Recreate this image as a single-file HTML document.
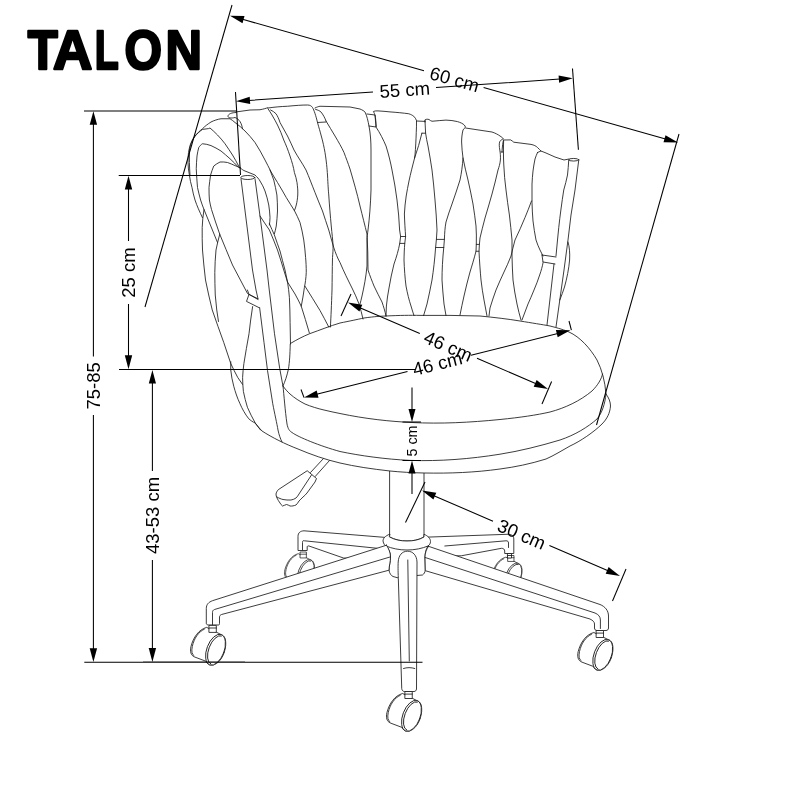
<!DOCTYPE html>
<html><head><meta charset="utf-8"><title>TALON</title>
<style>
html,body{margin:0;padding:0;background:#fff;}
svg{display:block;filter:grayscale(1)}
.t{font-family:"Liberation Sans",sans-serif;fill:#000}
.d{stroke:#000;stroke-width:1.05;fill:none}
.c{stroke:#1a1a1a;stroke-width:0.85;fill:none;stroke-linecap:round;stroke-linejoin:round}
.a{fill:#000;stroke:none}
.w{fill:#fff}
</style></head><body>
<svg width="800" height="800" viewBox="0 0 800 800">
<rect width="800" height="800" fill="#fff"/>
<text class="t" y="69.400" font-size="56" font-weight="bold" stroke="#000" stroke-width="2.500" stroke-linejoin="round"><tspan x="27.700" textLength="30" lengthAdjust="spacingAndGlyphs">T</tspan><tspan x="53" textLength="39.300" lengthAdjust="spacingAndGlyphs">A</tspan><tspan x="94.700" textLength="24" lengthAdjust="spacingAndGlyphs">L</tspan><tspan x="124.500" textLength="37.500" lengthAdjust="spacingAndGlyphs">O</tspan><tspan x="165.500" textLength="36.500" lengthAdjust="spacingAndGlyphs">N</tspan></text>
<g id="chair" class="c">
<defs><g id="castor">
<path class="w" d="M-6.500 2.100C-14 4 -19.500 12 -21.800 21C-23 26 -22 30 -18.400 31.500L-6.500 36C-6 38 -4 39.800 -1.300 39.800C6 39.500 12 30 12.900 20C13.300 13 11.500 10.300 8.500 9.200Z"/>
<path d="M-8.500 3.800C-14.500 6.500 -18.700 13 -20.500 21C-21.500 26 -21 29 -18.800 30.300"/>
<ellipse class="w" cx="2.750" cy="24.350" rx="8.700" ry="16.200" transform="rotate(20.800 2.750 24.350)"/>
<path d="M0 -15A7.300 15 0 0 0 0 15" transform="translate(3.300 24.500) rotate(20.800)"/>
<path class="w" d="M-3.500 0H3.500V7H-3.500Z"/>
<path d="M-3.500 2.600H3.500"/>
</g></defs>
<!-- back castors -->
<use href="#castor" transform="translate(303.400 552) scale(0.850)"/>
<use href="#castor" transform="translate(511 555.500) scale(0.850)"/>
<!-- back-left leg -->
<path class="w" d="M385 537.400L304 530.800C300.500 531 298 532.500 298 536.500V550.500H307.200V547C307.300 546 307.800 545.700 309 546L343.500 558L385 560Z"/>
<path d="M377.300 548.300L304.500 540.800C303 540.300 302.500 541 302.500 542.500V550"/>
<!-- back-right leg -->
<path class="w" d="M428 537.100L507 534.300C511.500 534.300 513.800 535.500 513.800 539V553.500H504.700V551C504.600 549.300 503.500 548.300 501.500 548.300L461.200 555.800L428 556Z"/>
<path d="M444.800 546L506 540.800C507.800 540.800 508.500 541.500 508.500 543V547.500"/>
<path class="w" d="M507.800 553.500H511.500V558H507.800Z"/>
<path d="M508 555.500H511.500"/>
<!-- column -->
<path class="w" d="M389.600 470V537C395 540 401 541 407 541C413 541 419 540 424 537V470Z"/>
<!-- hub -->
<path class="w" d="M389.600 534.200C385 536 383 538.500 383 541C383.500 544 385 545.500 386 546C389 549 390.500 553 390.500 557C390.500 562 389 566 389 570C389.500 573.500 391 575.500 393 576.500L398.500 578L416.800 575.500L422.500 575C424 574 425 572.500 425.300 570L425 557C425 553 426 549 428 546C429.500 545 430.500 543.500 430.500 541.500C430.500 538.500 428 536 424 534.200V537C419 540 413 541 407 541C401 541 395 540 389.600 537Z"/>
<path d="M386 546C392 548.500 399 550 407 550C415 550 422 548.500 428 546"/>
<!-- front-left leg -->
<path class="w" d="M386.500 545.200L212.500 600.700C208.500 602.200 206.300 604.500 206.300 608.500V623.500C206.300 624.500 207.500 625 208.900 625H218.500C219.200 625 219.500 624.500 219.500 623.500V617C219.600 615.800 220.200 615 221.500 614.500L389 570.200C389 566 390.500 562 390.500 557C390.500 553 389 549 386.500 545.200Z"/>
<path d="M390 557L214.500 609.500C213 610 212.500 611 212.500 612.500V624.500"/>
<!-- right leg -->
<path class="w" d="M428.500 546.300L600 604.500C605 606.500 608.500 610.500 608.500 616V628C608.500 629.500 607.500 630.500 606 630.500H597C595.500 630.500 594.500 629.500 594.500 628V624C594.500 622 593 620.500 590 619L425.300 570.700L425 557C425 553 426.500 549 428.500 546.300Z"/>
<path d="M425.200 557.500L595 613C598.500 614.500 600.300 616.500 600.400 620V628.500"/>
<!-- front leg -->
<path class="w" d="M398.300 578C398 570 398 566 398.200 562C398.500 555.500 402 551.200 407.500 551.200C413 551.200 416.800 555.500 417 562L416.500 689C416.300 690.500 415.500 691.500 414 691.500H404.500C403 691.500 402 690.500 401.800 689Z"/>
<path d="M407.800 560L409.300 661"/>
<path d="M403.500 668.500C407 667.300 411 667.300 414.800 668.500"/>
<!-- front castors -->
<use href="#castor" x="212.800" y="625.400"/>
<use href="#castor" x="600" y="630.500"/>
<use href="#castor" x="408.750" y="691.500"/>
<!-- lever -->
<path d="M323.500 458.500L310.500 472.500M329.500 460.500L315.200 476.500"/>
<path class="w" d="M307.500 471L316.500 478.500L315 482L307 493C305.500 494.800 304.300 496 303 497C301.500 498.500 300.200 499.800 299 501C298 502.500 297.200 504 296 505C294 505.800 292 506.200 290 506C288.800 505.300 287.700 504.700 286.500 504.500C285 504.800 283.800 505.800 282.500 506C281.500 505.200 280.700 504.200 280 503C278.800 501.300 277.800 499.700 277 498C276.300 496.700 276 495.300 276 494C276.300 492.500 277 491.200 278 490Z"/>
<path d="M277 497C279 498.200 281 499 283 499.500C285.700 500 288.300 500.200 291 500C293 499.600 294.700 499 296 498C297.200 496.800 298.200 495.500 299 494L311.500 475"/>
<!-- SEAT -->
<!-- plate + cushion silhouette white -->
<path class="w" stroke="none" d="M291 344.500C305 336 330 326 360 320.500C395 315 430 314.500 470 317.500C500 319.500 530 324 548 327C558 329 565 330.500 569 332C580 337 590 348 597 360C602 370 605 381 606 394C609 398 610.500 402 610.500 406C610 413 607 419 602 424C594 432 580 441.500 570 446C562 450.500 554 455.500 546 459C530 464 515 467 500 469C475 472.500 450 473.500 424 473C412 472.800 400 472 390 471C372 469 355 466.500 340 463C325 459.500 311 454.500 298 449C285 444 272 437.500 262 429.500C252 421 245 409 240 396C236 386 233 374 230.750 361.750L260 300Z"/>
<path d="M290.600 343.400C297 339.500 303 336.500 309.500 333.750C320 330 330 326 340 323C350 321 357 319.500 364 318C375 316.500 380 316.200 386 316C400 315.300 410 315.200 420 315.400C440 315.200 460 315.400 480 316C495 317.500 508 319 520 321C532 323 542 324.500 550 326C558 328 565 330.200 569 332C580 337 590 348 597 360C602 370 605 381 606 394"/>
<path d="M290.250 344.250C290 355 289.500 362 288.500 368.750C287 376 285 381.500 283.250 385.400"/>
<path d="M283 386C285 389 287.500 391.700 290 394C294.500 398 299.500 401.200 305 404C311 406.500 317.500 408.500 324 410C329.500 411.300 334.700 412.500 340 413.500C365 418.800 390 421.500 412 422.500C440 424 470 422.500 500 419.500C520 417.500 537 415 550 412C565 408 580 401 592 391C598 385 601.500 379 602.500 374"/>
<path d="M283 386C284 395 285 410 287 424C288 429 289.500 431 292 432.500C298 437 320 446 340 451.500C360 455.700 385 459.200 410 460.400C440 461.400 470 459 500 454.200C520 451 540 446 560 440C575 435 588 427 597 419C602 413 605 404 606 394"/>
<!-- plate edge -->
<path d="M606 394C609 398 610.500 402 610.500 406C610 413 607 419 602 424C594 432 580 441.500 570 446C562 450.500 554 455.500 546 459C530 464 515 467 500 469C475 472.500 450 473.500 424 473C412 472.800 400 472 390 471C372 469 355 466.500 340 463C325 459.500 311 454.500 298 449C285 444 272 437.500 262 431C259.500 428.500 257.500 426 255.500 423.500M255 423C252.500 421.800 250.500 420.300 248.750 418.750C245 414 242.300 409 240 403.750C237.300 398 235.300 392 233.750 386.250C232.300 381 231.300 375.500 230.750 370V361.750"/>
<!-- BACK -->
<g id="back">
<!-- top edges -->
<path d="M236.250 111.900L250 110L260 109.750C264 109 266 108.300 267.500 107.750"/>
<path d="M236 112.500C232 112.500 228 114 228 116.200C228 118 231 118.500 235 117.500C237.500 118.500 239 120 240 121.500C241.500 124 242 126 242.500 128.750"/>
<path d="M268 108C275 107 281 106.500 287.500 106.250C295 105.500 302 105 307.500 105C310 105 311.500 106 312.500 107.500C314 110 316 116 317.500 122.500C319 128 320 131 321 135C323 142 324 147 325 152.500C326.500 162 327 168 327.500 175C328 185 328.300 190 328.750 195C329.500 206 330.300 216 331.250 226C332 234 332.800 240 333 245C333.200 250 332.800 254 332.500 257.500C332.200 270 332.200 280 332 290C331.500 305 331 316 330.400 327"/>
<!-- strip1 right edge pair -->
<path d="M268 108.750C269.500 111 270.800 113 272 115C274 118.500 276 122 277.500 125C280 130 282 135 283.750 140C286 145 288 150 290 156C292 162 293.500 167 294.400 172.500C295.500 176 296.500 179 297 182.500C297.600 187 298 191 297.750 195C297.500 199 297 202 296.250 205C295.800 207 295.200 209 294.400 210.600"/>
<path d="M270.600 110C272.500 111 274.500 112 276 113.750C277.500 116 279 119 280 122.500C282.500 127 285 131.500 287.500 136C290 141 292 145.500 294 150C296 153.500 298 157 300 160C302 163 304 166.500 306 170C309 177 312 185 315 192.500C317.500 199 320 205 322.500 211C324.500 217 326.500 223.500 328.750 230C330.500 236 332 242 333.750 247.500C335.500 253 337.500 258 340 262.500C344 272 348 280 352 288C354.500 293 357 298.500 359 304C360.500 309 362 314 363 319"/>
<!-- strip B -->
<path d="M315 108C317 107 318.500 106.500 320 106.250L350 107L360 109C362.500 110 364 111 365 112C367 116 368 121 369 126C370.500 134 371 142 371 150V190C370.500 205 369.500 218 368 230C367.500 234 367 237 367 240V266C366 277 364 287 362 296C361.300 299 360.700 301.500 360 304"/>
<path d="M315.600 109.400C318 110 320 111 321 112C323 114.500 325 118 326 121M317.500 122.500L326 122"/>
<path d="M326 121C329 126 332 131 335 136C338.500 142 341.500 147 344 152.500C346 158 348 163 350 169C353.500 181 357 193 360 206C362.500 216 365 226 367 234C367.700 246 368 258 368 270C370 276 372 281 374 286C376.500 291.500 379.500 297 382 302C383.500 306.500 385 311 386 316"/>
<!-- flap B-C -->
<path d="M367 114L375 115L376 127L369 126"/>
<!-- strip C -->
<path d="M376.200 126.500C376 122 375.600 118 375 115C374.300 113 373.600 112 373.400 111.500C374.500 110.900 376 110.800 378 110.900C382 111.100 386 111.500 390 111.900C397 112.400 403 113 408.750 113.750C411 114.500 412.500 115.300 413.750 116.250C415 117.500 416 119 416.500 120.600C416.600 125 416.400 129 416.250 132.500C416 140 415.600 148 415 155L414.600 158"/>
<path d="M376 127C380 133 383.500 140 386 146C388.500 154 390.500 162 392 170C394 180 395.800 190 397 200C398.300 210 399.200 220 399.600 230L400.600 236.500L399.750 243.400C398.500 250 396.500 257 394 264C392 272 390.300 280 389 288C387.800 294 387 300 386.400 306L386 316"/>
<path d="M400.600 236.500H405.600M399.750 243.400H404.750"/>
<path d="M421.900 133.200C420 141 417.500 150 414.600 158C412.500 166 410.500 174 409 181C408 186 407 191 406.200 196C405.300 202 404.700 208 404.400 214C404.600 222 405.200 230 405.600 236.500L404.750 243.400C404.300 249 404.100 255 404 260C404.300 269 405 278 406 286C407.300 293 409 300 411 306C412 309.500 413 312.500 414 315.600"/>
<!-- flap C-D -->
<path d="M416.500 121L425 121.400M425 120.600L425.600 133.200H421.900"/>
<!-- strip D -->
<path d="M425 122V119.800C426 119.200 427.500 119 429 119.500C430 120.300 431 121 432 121.250C437 121 441.500 120.200 446 120.100C450 120.200 454 120.700 457.500 121.600C460.500 122.500 463 123.700 464.250 125C465 125.700 465.300 126.500 465.400 127.250C464.500 128 463.600 129 463 130C462 134 461.600 138 461.600 142C461.800 147.500 462.300 153 463 158C462.500 165.500 461.500 173 460 180C457.500 188 454.800 196 452 204C449.800 210 447.800 216 446 222C445 227.500 444.600 233 444.400 239.400L443.750 247.500C442.600 259 442 270 442 280C442.500 288 443.200 296 444 304L446 315.600"/>
<path d="M425.600 133.200C426.300 137.500 427 142 428 146C429.500 154 430.800 162 432 170C433.200 180 434.200 190 435 200C435.900 210 436.600 220 437 230L436.400 239.400L435.600 247.500C434.800 259 433.500 270 432 280C430.500 288 428.800 296 427 304C425.800 308 424.700 312 423.600 315.600"/>
<path d="M436.400 239.400H444.400M435.600 247.500H443.750"/>
<!-- strip E -->
<path d="M465.600 128L476 129.600L492 132C495 133 498 134.500 500 136C501.500 137 502.800 138 503.400 138.800C502 139.500 500.500 140.300 499.800 141.500C499 143.500 499.200 146.500 499.800 150C500.300 153 500.600 156 500.400 160C500 164 499 167 498 170C496.200 178 494.200 186 492 194C489.800 202 487.400 210 485 218C483.200 225 481.500 231.500 480 238L479.400 244.400L479 251.250C479.500 261.500 480.200 271 481 280C481.800 287 482.800 293.500 484 300C485 305.500 486 311 487 316"/>
<path d="M463 158C464.500 165.500 466.200 173 468 180C469.800 188 471.500 196 473 204C474.200 211.500 475.200 219 476 226C476.500 232 476.400 238 476.300 244.400L476 251.250C474 259 472 265.500 470 272C467.800 280 465.800 288 464 296C462.500 302.500 461.200 309 460 315"/>
<path d="M476.300 244.400H479.400M476 251.250H479"/>
<!-- flap E-F -->
<path d="M503.300 140.800C502.800 143 502.300 146 502.200 149L502 152M500.900 152H502.800"/>
<!-- strip F -->
<path d="M503.400 140L510.600 139.900C511.800 140.500 512.800 141.500 513.750 142.200L531 144.400C534 145 536 146 537.500 147.500C539 149 540 150 541 151"/>
<path d="M503.600 140.600C503.400 146 503.400 152 503.500 158L503.800 165C504.300 173.500 504.800 182 506 190C507 198.500 508.200 207 509.400 215C510.400 223.500 511.300 232 512 240V256C512.200 264 512.500 272 513 280C514 288 515.300 296 517 304C518.200 309.500 519.500 315 521 320"/>
<path d="M531.500 201C529.500 206.500 527.300 212 525 217.500C522 225 518.500 232.500 515 240C513.500 245.500 512.200 251 511 256C508.800 261.500 506.500 267 504 272C501.200 278 498.500 284 496 290C493.800 296 491.800 302 490 308L489 316"/>
<!-- strip G -->
<path d="M537.500 152.500L541 151L546 153L555 157L564 160L569 159"/>
<path d="M537.500 152.500C536.500 154.500 535.700 157 535 159C534.200 163 533.500 167 533 171C532.500 175.500 532.200 180 532 184V202.500C532.200 209 532.500 215 533 221C533.800 227.500 534.800 234 536 240C537.200 243.500 538.500 247 540 250L543 256M543 263C542.200 267 541.200 270.500 540 274C538.200 279.500 536.200 285 534 290C532 295 530 299.500 528 304C526 309.500 524 315 522 320"/>
<!-- right tube -->
<ellipse cx="573.750" cy="159.750" rx="5" ry="1.300"/>
<path d="M568.750 160C568.500 165 568 170 567.500 175C566.500 180 565.200 185 563.750 190C562.700 196.500 561.800 203 561 209C560.200 215 559.400 221.500 558.750 227.500L557.500 240L556 256M554 264L547 325"/>
<path d="M578.750 160L575 190L571 215L568 240L564 270L556 327"/>
<path d="M542 255L556 257M543 262L555 264M542 255L543 262"/>
<path d="M568 242C569.500 247 570 253 569.600 260C568.800 269 567 278 564.500 287C563 291.500 561.500 296 559.800 300"/>
<!-- LEFT side -->
<!-- outer curve c + curve 5 -->
<path d="M202.500 217.750C199.500 211.500 197 206 195 200C193.800 196 192.800 192 192 187.500C190.800 183.500 190 179.500 189.400 175C188.600 171 188.100 167 188 162.500C187.900 159 188.100 156 188.500 152.500C189 149.500 189.700 146.500 190.600 143.750C191.800 141 193.300 138.500 195 136C197 133.500 199.500 131 202.500 128.750C205 126 208 124 211 122C214 120.500 217.500 119.300 221 118.750H230C232 120 233.500 121.200 235 122.500C238.500 125 242 128 245 131C248.500 134.500 252 138.500 255 142.500C258.500 148 262 154 265 160C267 164 269 167.500 270.600 171C273 175 275.200 179 277.500 182.500C280.500 187.500 283.500 192.500 286.250 197.500C289 202 291.800 206.500 294.400 210.600C296.500 214.500 298.300 218.500 300 222.500C301.500 228 302.800 234 303.750 240C304.600 246 305.200 252 305.600 257.500C306 262 306.300 267 306.250 272.500C306 278 305.300 283 304.400 287.500C303.500 294 302.500 300 301.250 306.250"/>
<!-- curve d -->
<path d="M240 168C239.500 167.500 239 166.800 238.750 166.250C236.800 162.500 234.700 158.500 232.500 155C230 151 227.500 147.500 225 143.750C222.500 140.500 220 137.500 217.500 135C215 132.500 212.500 130 210 128L208.500 128.600L202.500 129.400C199.500 131.500 197 133.800 195 136.250C193.800 137.500 193 138.800 192.500 140C191 143 190 146.500 189.400 150V162.500C189.500 167 189.700 171 190 175"/>
<!-- curve e -->
<path d="M240 168C239.600 167.800 239.200 167.700 238.750 167.500C236 164.500 233 161.500 230 158.750C227 156 224 153.500 221 151C217.500 149 214.500 147 211 145.600C208 144.500 205.500 144 202.500 143.750C201 144.500 199.800 146 198.750 147.500C198 150.500 197.400 153 197 156C196.600 160 196.400 164.500 196.250 168.750C196.500 175 197 181.500 197.500 187.500C198.500 192 199.500 196 200.600 200C201.700 203.500 202.800 206.500 204 209.500C208.500 220.500 213 231.500 217.500 242.500"/>
<!-- curve f -->
<path d="M240.600 168C238.800 167.200 237 166.300 235 165.600C232.500 164.500 230 163.300 227.500 162.500C225 162 222.500 161.800 220 162C217.800 163 215.700 164.500 213.750 166C212.500 169 211.500 172 210.600 175C210 179 209.400 183.500 209 187.500C209 192 209.100 196 209.400 200C210 203.500 210.700 206.500 211.500 209.500C214 218 217 226 219.750 234.250C224 244.500 228.300 255 232.500 265C237.500 274.500 242.500 284 247.500 293.500L258 299.500"/>
<!-- g -->
<path d="M240.600 168C242 169.500 243.500 170.500 245 171L250 173L255 175C257 177 259 179 260 181C262 184 263.700 187.500 265 191C266.500 195.500 267.800 200 268.750 205C269.400 209 269.800 213 270 217.500C270 220 269.700 222.500 269.400 225"/>
<path d="M270 170C271.300 173.500 272.600 177 273.750 180C275 185 276 190 276.900 195C277.300 200 277.500 205.500 277.500 211C277.300 216 276.800 221 276.250 226C275.700 229 275.100 231.500 274.400 233.750"/>
<!-- left tube -->
<ellipse class="w" cx="247.800" cy="177.500" rx="7" ry="2"/>
<path d="M241 178.750L252.500 270L256 290L258 298.750M259.600 307.500L264 342.500L267.500 370.500L272.750 403.750C274.500 413 277 424 278 430C279 435 280.500 439 282 442"/>
<path d="M255 178.750L260 216L267 270L269.250 290L274.500 333.750L279.750 368.750L283 386.250"/>
<path d="M247.400 290L249 294.400L257.900 298.750M249 294.400L246.500 301.400L258.750 307.500"/>
<path d="M252.600 306.600C251.200 315.500 250 324.500 249 333.750C247.200 343.500 245.500 353.500 243.900 363.500C243.300 368 242.800 373 242.600 377.500C242.600 382 242.900 387 243.400 391.500C244.500 397 245.800 402 247.400 407.250C249.800 412.500 252.300 418 255.250 423L260.500 430"/>
<!-- diagonals right of tube -->
<path d="M260 216C263 220.500 266.200 225.500 269.400 230C272.200 236.500 275 243.500 277.500 250C279.700 256.500 281.800 263.500 283.750 270C285 274 286.200 278 287.500 282C290 286 292.500 290 295 294C297.200 298 299.300 302 301.250 306.250C304 315 306.800 324 309.400 333"/>
<path d="M269.400 223.750C271 227.500 272.800 231.500 274.400 235C276.300 240.500 278.200 246 280 251C281.700 257.500 283.400 264 285 270C285.900 274 286.700 278 287.500 282C288.300 287 289 292 289.400 297.500C289.800 306 290 314 290.100 322.500L290.500 344"/>
<path d="M305 286.200C310 294 315 302.500 320 310.500C323 316 326 321.500 328.750 327"/>
<!-- leaf L1 -->
<path d="M204 209.500C203 215.500 202.400 221.500 202.200 227.500C202.100 235 202.200 242.500 202.500 250C203.300 260 204.300 270 205.500 280C207.500 290 209.800 300 212.250 310C216 321 220 332 223.750 342.500C226 349.500 228.400 356.500 230.750 363.500C233 368.500 235.400 373 237.750 377.500L242.600 384.500"/>
<path d="M219.750 234.250C218.300 239.500 217 245 216 250C215.300 257.500 214.900 265 214.800 272.500C214.800 280 215 287.500 215.250 295L216.750 310L218.500 321.500"/>
</g>

</g>
<g id="dims" class="d">
<path d="M84 111H237"/>
<path d="M118.700 175.500H240"/>
<path d="M119 369.500H416"/>
<path d="M84.300 662.300H422.500M143 661.900H245"/>
<path d="M93.400 124V356.500M93.400 415V650"/>
<path d="M128.500 188V241M128.500 304V356"/>
<path d="M152.400 383V471M152.400 560V650"/>
<path d="M232 5L145 307"/>
<path d="M679 134L596.500 425"/>
<path d="M235.500 92L240.500 175"/>
<path d="M572.500 68.500L578.400 149.700"/>
<path d="M351 294L341 316"/>
<path d="M551.600 381.500L542 404"/>
<path d="M301 389.500L304 397.500"/>
<path d="M569 321L571.400 330.200"/>
<path d="M402.500 422H421M402.500 460.500H421"/>
<path d="M412 387.500V410M412 472V494"/>
<path d="M425 482L405.500 522.500"/>
<path d="M626 569L612.500 601"/>
<path d="M242.5 19.3L424.0 70.7M483.6 87.6L665.5 139.1"/>
<path d="M249.0 100.4L373.0 91.9M436.0 87.6L559.8 79.1"/>
<path d="M359.9 307.7L419.8 333.5M477.0 358.3L536.1 383.8"/>
<path d="M316.6 394.3L407.5 371.4M471.0 355.3L557.8 333.4"/>
<path d="M433.9 495.7L493.0 521.2M549.4 545.5L608.1 570.8"/>
</g>
<g id="arrows" class="a">
<path d="M93.400 111.300L89.700 124.800H97.100Z"/>
<path d="M93.400 662L89.700 648.300H97.100Z"/>
<path d="M128.500 175.800L124.800 189.500H132.200Z"/>
<path d="M128.500 369.200L124.800 355.300H132.200Z"/>
<path d="M152.400 370L148.800 383.500H156Z"/>
<path d="M152.400 662L148.700 648H156.100Z"/>
<path d="M412 422L408.500 409H415.500Z"/>
<path d="M412 460.500L408.500 473.500H415.500Z"/>
<path d="M230.0 15.8L244.5 16.1L242.5 23.2Z"/>
<path d="M678.0 142.6L663.5 142.3L665.5 135.2Z"/>
<path d="M236.0 101.3L249.7 96.7L250.2 104.0Z"/>
<path d="M572.8 78.2L559.1 82.8L558.6 75.5Z"/>
<path d="M348.0 302.5L362.3 304.7L359.4 311.5Z"/>
<path d="M548.0 389.0L533.7 386.8L536.6 380.0Z"/>
<path d="M304.0 397.5L316.7 390.5L318.5 397.7Z"/>
<path d="M570.4 330.2L557.7 337.2L555.9 330.0Z"/>
<path d="M422.0 490.5L436.3 492.7L433.4 499.4Z"/>
<path d="M620.0 576.0L605.7 573.8L608.6 567.1Z"/>
</g>
<g id="texts" class="t" font-size="18.500">
<text transform="translate(100.300 409.500) rotate(-90)">75-85</text>
<text transform="translate(135 297.800) rotate(-90)">25 cm</text>
<text transform="translate(159.200 554) rotate(-90)">43-53 cm</text>
<text transform="translate(416.500 456.500) rotate(-90)" font-size="14.300">5 cm</text>
<text transform="translate(428.5 78.8) rotate(15.80)" font-size="18.5">60 cm</text>
<text transform="translate(380.0 98.0) rotate(-3.92)" font-size="18.5">55 cm</text>
<text transform="translate(422.6 342.1) rotate(23.39)" font-size="18.5">46 cm</text>
<text transform="translate(414.5 376.0) rotate(-14.18)" font-size="18.5">46 cm</text>
<text transform="translate(496.0 530.2) rotate(23.36)" font-size="18.5">30 cm</text>
</g>
</svg>
</body></html>
